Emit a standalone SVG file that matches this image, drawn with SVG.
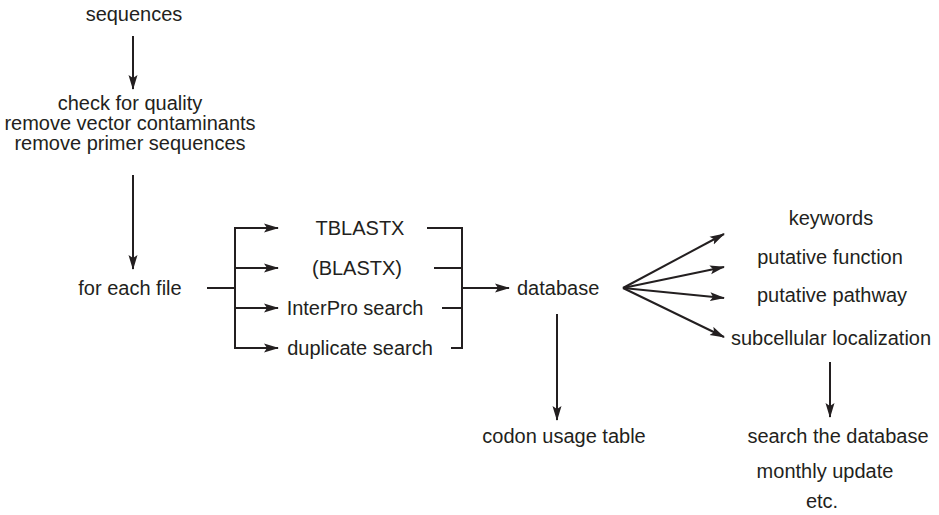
<svg xmlns="http://www.w3.org/2000/svg" width="939" height="515" viewBox="0 0 939 515">
<style>
text{font-family:"Liberation Sans",Arial,sans-serif;font-size:20px;fill:#231f20}
.m{text-anchor:middle}
.c{stroke:#231f20;stroke-width:2;fill:none}
</style>
<defs>
<marker id="ah" markerUnits="userSpaceOnUse" markerWidth="15" markerHeight="10" refX="14" refY="5" orient="auto">
<path d="M0,0.5 L15,5 L0,9.5 L3,5 Z" fill="#231f20"/>
</marker>
</defs>
<rect width="939" height="515" fill="#fff"/>
<g id="connectors">
<line class="c" x1="133" y1="36" x2="133" y2="89" marker-end="url(#ah)"/>
<line class="c" x1="133" y1="175" x2="133" y2="269" marker-end="url(#ah)"/>
<path class="c" d="M207,288 H235 M235,228 V348"/>
<line class="c" x1="234" y1="228" x2="278" y2="228" marker-end="url(#ah)"/>
<line class="c" x1="234" y1="268" x2="278" y2="268" marker-end="url(#ah)"/>
<line class="c" x1="234" y1="308" x2="278" y2="308" marker-end="url(#ah)"/>
<line class="c" x1="234" y1="348" x2="278" y2="348" marker-end="url(#ah)"/>
<path class="c" d="M427,228 H462 V348 H451 M434,268 H462 M442,308 H462"/>
<line class="c" x1="462" y1="288" x2="509" y2="288" marker-end="url(#ah)"/>
<line class="c" x1="623" y1="288" x2="724" y2="234" marker-end="url(#ah)"/>
<line class="c" x1="623" y1="288" x2="724" y2="267" marker-end="url(#ah)"/>
<line class="c" x1="623" y1="288" x2="724" y2="298" marker-end="url(#ah)"/>
<line class="c" x1="623" y1="288" x2="724" y2="337" marker-end="url(#ah)"/>
<line class="c" x1="557" y1="314" x2="557" y2="420" marker-end="url(#ah)"/>
<line class="c" x1="830" y1="362" x2="830" y2="417" marker-end="url(#ah)"/>
</g>
<g id="sequences"><text class="m" x="134" y="21">sequences</text></g>
<g id="qc">
<text class="m" x="130" y="110">check for quality</text>
<text class="m" x="130" y="130">remove vector contaminants</text>
<text class="m" x="130" y="150">remove primer sequences</text>
</g>
<g id="foreachfile"><text class="m" x="130" y="295">for each file</text></g>
<g id="tblastx"><text class="m" x="360" y="235">TBLASTX</text></g>
<g id="blastx"><text class="m" x="357" y="275">(BLASTX)</text></g>
<g id="interpro"><text class="m" x="355" y="315">InterPro search</text></g>
<g id="duplicate"><text class="m" x="360" y="355">duplicate search</text></g>
<g id="database"><text x="517" y="295">database</text></g>
<g id="keywords"><text class="m" x="831" y="225">keywords</text></g>
<g id="function"><text class="m" x="830" y="264">putative function</text></g>
<g id="pathway"><text class="m" x="832" y="302">putative pathway</text></g>
<g id="subcellular"><text x="731" y="345">subcellular localization</text></g>
<g id="codon"><text class="m" x="564" y="443">codon usage table</text></g>
<g id="search">
<text class="m" x="838" y="443">search the database</text>
<text class="m" x="825" y="478">monthly update</text>
<text class="m" x="822" y="508">etc.</text>
</g>
</svg>
